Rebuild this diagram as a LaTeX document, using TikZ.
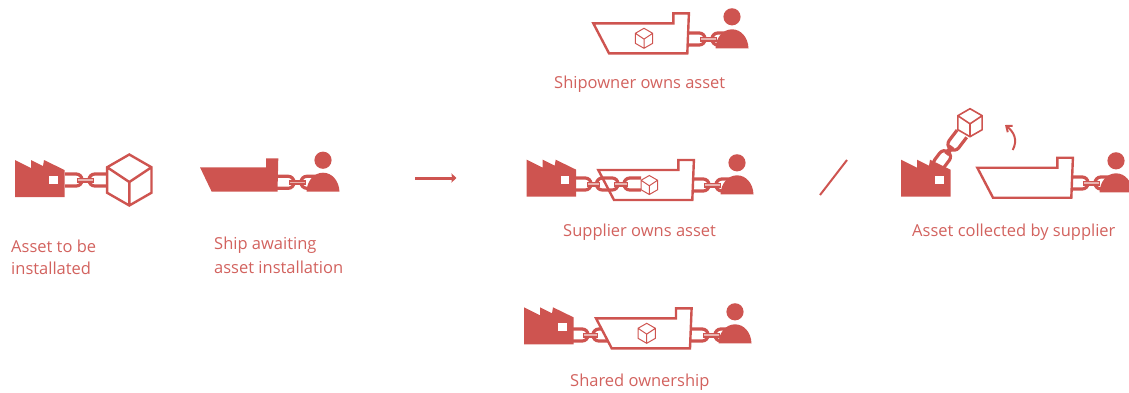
\documentclass[tikz,border=0pt]{standalone}
\usepackage{fontspec}
\setmainfont{Open Sans}
\usetikzlibrary{arrows.meta}
\definecolor{brick}{HTML}{CE5450}
\definecolor{txt}{HTML}{D2625E}
\definecolor{pale}{HTML}{E9B3AF}
\tikzset{
  x=1pt,y=-1pt,
  label/.style={text=txt,font=\fontsize{16.5}{20}\selectfont,inner sep=0pt,anchor=base west},
  lnk/.style={draw=brick,line width=3.2pt,line cap=butt,fill=none,rounded corners=5.8pt},
  pics/factory/.style={code={
    \fill[brick] (0,0)--(0,-37)--(16,-29)--(16,-37)--(28,-31)--(29,-37)--(49.5,-27)--(49.5,0)--cycle;
    \fill[white] (34,-21) rectangle (42.5,-13);
  }},
  pics/person/.style={code={
    \fill[brick] (0,-31.5) circle[radius=8.6];
    \fill[brick] (-16.5,0) .. controls (-16,-11) and (-9,-19) .. (0,-19) .. controls (9,-19) and (16,-11) .. (16.5,0) -- cycle;
  }},
  pics/hull/.style={code={
    \draw[brick,line width=2.4pt,miter limit=6] (0,0)--(80,0)--(80,-10)--(95.6,-10)--(94,30)--(15.7,30)--cycle;
  }},
  pics/solidship/.style={code={
    \fill[brick] (0,0)--(66,0)--(66,-9)--(78.3,-9)--(77.5,24.4)--(11.7,24.4)--cycle;
  }},
  pics/cubeicon/.style={code={
    \draw[brick,line width=#1,line join=miter] (0,-1)--(0.87,-0.5)--(0.87,0.5)--(0,1)--(-0.87,0.5)--(-0.87,-0.5)--cycle
      (-0.87,-0.5)--(0,0.08)--(0.87,-0.5) (0,0.08)--(0,1);
  }},
  pics/shortchain/.style={code={
    \draw[lnk] (0,-6)--(17,-6)--(17,6)--(0,6);
    \draw[lnk] (41,-6)--(24,-6)--(24,6)--(41,6);
    \draw[brick,line width=5pt] (12,0)--(29,0);
    \draw[pale,line width=1.2pt] (13,0)--(28,0);
  }},
  pics/stubchain/.style={code={
    \draw[lnk] (0,-6)--(15,-6)--(15,6)--(0,6);
    \draw[lnk] (28,-6)--(20,-6)--(20,6)--(35,6);
    \draw[brick,line width=5pt] (10,0)--(25,0);
    \draw[pale,line width=1.2pt] (11,0)--(24,0);
  }},
  pics/longchain/.style={code={
    \draw[lnk] (0,-6)--(15,-6)--(15,6)--(0,6);
    \draw[lnk] (20.5,-6) rectangle (42,6);
    \draw[lnk] (65,-6)--(48,-6)--(48,6)--(65,6);
    \draw[brick,line width=5pt] (11,0)--(24,0);
    \draw[pale,line width=1.2pt] (12,0)--(23,0);
    \draw[brick,line width=5pt] (38,0)--(52,0);
    \draw[pale,line width=1.2pt] (39,0)--(51,0);
  }},
  pics/liftchain/.style={code={
    \draw[lnk] (0,-6) rectangle (20,6);
    \draw[brick,line width=5pt] (17,0)--(27,0);
    \draw[lnk] (43,-6)--(24,-6)--(24,6)--(43,6);
  }},
}
\begin{document}
\begin{tikzpicture}
\useasboundingbox (0,0) rectangle (1129,392);
% left pair
\pic at (15,197) {factory};
\pic at (65,180) {shortchain};
\pic[scale=25.5] at (129.3,180) {cubeicon=2.4pt};
\pic at (200,167.3) {solidship};
\pic at (277,182.3) {shortchain};
\pic at (323,191.7) {person};
% arrow
\draw[brick,line width=3pt,-{Stealth[length=5pt,width=9pt,inset=0.5pt]}] (415,178)--(456.5,178);
\draw[brick,line width=2pt] (820,195)--(847,160);
% shipowner
\pic at (593.3,23.3) {hull};
\pic at (688,39) {shortchain};
\pic[scale=10] at (644,38.3) {cubeicon=1pt};
\pic at (732,48.3) {person};
% supplier
\pic at (526.7,196.7) {factory};
\pic at (576,184) {longchain};
\pic at (598.3,170) {hull};
\pic[scale=9.5] at (649.3,185) {cubeicon=1pt};
\pic at (692,185) {shortchain};
\pic at (737,194.3) {person};
% collected
\pic at (901,196.7) {factory};
\pic[rotate=53] at (936,168) {liftchain};
\pic[scale=14] at (970,122.7) {cubeicon=1.6pt};
\draw[brick,line width=2pt,-{Straight Barb[length=5pt,width=8pt]}] (1012.7,150) .. controls (1018,140) and (1014,132) .. (1005,125);
\pic at (977.3,167.7) {hull};
\pic at (1071,183) {shortchain};
\pic at (1116,192.3) {person};
% shared
\pic at (524,344.3) {factory};
\pic at (573,335) {stubchain};
\pic at (596,318.3) {hull};
\pic[scale=10] at (646.7,333.3) {cubeicon=1pt};
\pic at (691,335) {shortchain};
\pic at (735,343.3) {person};
% labels
\node[label] (a1) at (11,252) {Asset to be};
\node[label] (a2) at (11,274) {installated};
\node[label] (b1) at (214,249) {Ship awaiting};
\node[label] (b2) at (214,273) {asset installation};
\node[label] (c) at (554,88) {Shipowner owns asset};
\node[label] (d) at (563,236) {Supplier owns asset};
\node[label] (e) at (912,236) {Asset collected by supplier};
\node[label] (f) at (570,386) {Shared ownership};
\end{tikzpicture}
\end{document}
